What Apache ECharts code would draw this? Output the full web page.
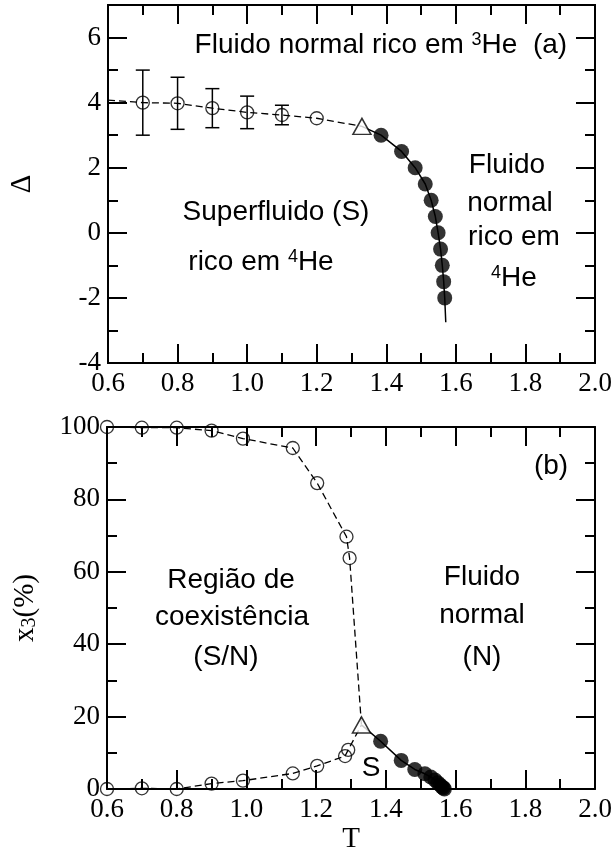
<!DOCTYPE html>
<html>
<head>
<meta charset="utf-8">
<script src="https://cdn.jsdelivr.net/npm/echarts@6/dist/echarts.min.js"></script>
<style>
html, body { margin: 0; padding: 0; background: #fff; }
#chart { width: 616px; height: 855px; }
</style>
</head>
<body>
<div id="chart"></div>
<script>
// painel (a): Delta x T
var startT = 0.6, startDelta = 4.08;
var openT = [0.7, 0.8, 0.9, 1.0, 1.1, 1.2];
var openDelta = [4.0, 3.98, 3.83, 3.7, 3.62, 3.52];
var errT = [0.7, 0.8, 0.9, 1.0, 1.1];
var errDelta = [4.0, 3.98, 3.83, 3.7, 3.62];
var errSize = [1.0, 0.8, 0.6, 0.5, 0.3];
var triT = 1.33, triDelta = 3.27, triX3 = 17.7;
var filledT = [1.385, 1.444, 1.483, 1.512, 1.529, 1.541, 1.549, 1.556, 1.561, 1.565, 1.568];
var filledDelta = [3.0, 2.5, 2.0, 1.5, 1.0, 0.5, 0.0, -0.5, -1.0, -1.5, -2.0];
var tailT = 1.571, tailDelta = -2.75;

// painel (b): x3 x T
var upperT = [0.6, 0.7, 0.8, 0.9, 0.99, 1.133, 1.203, 1.287, 1.296];
var upperX3 = [100, 99.8, 99.8, 99, 96.8, 94.2, 84.5, 69.7, 63.8];
var lowerT = [0.6, 0.7, 0.8, 0.9, 0.99, 1.133, 1.203, 1.283, 1.292];
var lowerX3 = [0, 0.2, 0, 1.5, 2.3, 4.3, 6.4, 9.1, 10.8];
var filledX3 = [13.2, 7.9, 5.4, 4.2, 3.3, 2.5, 1.7, 1.1, 0.6, 0.3, 0.0];

var xTicks = [0.6, 2.0, 0.2];

function pairs(a, b) {
    return a.map(function (v, i) { return [v, b[i]]; });
}

var serif = 'Liberation Serif';
var sans = 'Liberation Sans';

function xAx(grid, pos, labels, name) {
    return {
        type: 'value', gridIndex: grid, position: pos,
        min: xTicks[0], max: xTicks[1], interval: xTicks[2],
        name: name || '', nameLocation: 'middle', nameGap: 36,
        nameTextStyle: { color: '#000', fontFamily: serif, fontSize: 29 },
        axisLine: { show: true, onZero: false, lineStyle: { color: '#000', width: 2 } },
        axisTick: { show: true, inside: true, length: 19, lineStyle: { color: '#000', width: 2 } },
        minorTick: { show: true, splitNumber: 2, length: 10, lineStyle: { color: '#000', width: 2 } },
        splitLine: { show: false },
        axisLabel: {
            show: labels, margin: 7, color: '#000', fontFamily: serif, fontSize: 27,
            formatter: function (v) { return v.toFixed(1); }
        }
    };
}

function yAx(grid, pos, min, max, step, tickLen, labels, name, gap, minor) {
    return {
        type: 'value', gridIndex: grid, position: pos,
        min: min, max: max, interval: step,
        name: name || '', nameLocation: 'middle', nameGap: gap || 0, nameRotate: 90,
        nameTextStyle: {
            color: '#000', fontFamily: serif, fontSize: 29,
            rich: { s: { fontFamily: serif, fontSize: 20, verticalAlign: 'bottom', lineHeight: 16 } }
        },
        axisLine: { show: true, onZero: false, lineStyle: { color: '#000', width: 2 } },
        axisTick: { show: true, inside: true, length: tickLen, lineStyle: { color: '#000', width: 2 } },
        minorTick: { show: !!minor, splitNumber: 2, length: 10, lineStyle: { color: '#000', width: 2 } },
        splitLine: { show: false },
        axisLabel: {
            show: labels, margin: 7, color: '#000', fontFamily: serif, fontSize: 27,
            formatter: function (v) { return v === max && max === 7 ? '' : String(v); }
        }
    };
}

var open = { color: 'rgba(0,0,0,0)', borderColor: '#000', borderWidth: 1.3 };
var dashed = { color: '#000', width: 1.3, type: [7, 4] };
var solid = { color: '#000', width: 1.5 };

function lineS(xi, yi, data, style) {
    return { type: 'line', xAxisIndex: xi, yAxisIndex: yi, data: data, symbol: 'none',
        lineStyle: style, clip: false, z: 2 };
}
function dots(xi, yi, data, size, style, symbol) {
    return { type: 'scatter', xAxisIndex: xi, yAxisIndex: yi, data: data, symbol: symbol || 'circle',
        symbolSize: size, itemStyle: style, clip: false, z: 4 };
}

var sup = { fontFamily: sans, fontSize: 18, verticalAlign: 'top', lineHeight: 3 };
function label(text, x, y, align) {
    return {
        type: 'text', x: x, y: y, z: 10,
        style: {
            text: text, fill: '#000', fontFamily: sans, fontSize: 28,
            align: align || 'center', textAlign: align || 'center',
            verticalAlign: 'middle', textVerticalAlign: 'middle',
            rich: { sup: sup }
        }
    };
}

var chart = echarts.init(document.getElementById('chart'));
var option = {
    animation: false,
    backgroundColor: '#fff',
    grid: [
        { left: 107, top: 5, width: 488, height: 358 },
        { left: 107, top: 427, width: 488, height: 365 }
    ],
    xAxis: [
        xAx(0, 'bottom', true),
        xAx(0, 'top', false),
        xAx(1, 'bottom', true, 'T'),
        xAx(1, 'top', false)
    ],
    yAxis: [
        yAx(0, 'left', -4, 7, 2, 19, true, 'Δ', 71),
        yAx(0, 'left', -4, 7, 1, 10, false),
        yAx(0, 'right', -4, 7, 2, 19, false),
        yAx(0, 'right', -4, 7, 1, 10, false),
        yAx(1, 'left', 0, 100, 20, 19, true, 'x{s|3}(%)', 67, true),
        yAx(1, 'right', 0, 100, 20, 19, false, '', 0, true)
    ],
    series: [
        // (a)
        lineS(0, 0, [[startT, startDelta]].concat(pairs(openT, openDelta), [[triT, triDelta]]), dashed),
        lineS(0, 0, [[triT, triDelta]].concat(pairs(filledT, filledDelta), [[tailT, tailDelta]]), solid),
        {
            type: 'custom', xAxisIndex: 0, yAxisIndex: 0, z: 3,
            data: errT.map(function (t, i) { return [t, errDelta[i], errSize[i]]; }),
            encode: { x: 0, y: 1 },
            renderItem: function (params, api) {
                var t = api.value(0), v = api.value(1), d = api.value(2);
                var hi = api.coord([t, v + d]);
                var lo = api.coord([t, v - d]);
                var c = 7, st = { stroke: '#000', lineWidth: 1.5 };
                return {
                    type: 'group', children: [
                        { type: 'line', shape: { x1: hi[0], y1: hi[1], x2: lo[0], y2: lo[1] }, style: st },
                        { type: 'line', shape: { x1: hi[0] - c, y1: hi[1], x2: hi[0] + c, y2: hi[1] }, style: st },
                        { type: 'line', shape: { x1: lo[0] - c, y1: lo[1], x2: lo[0] + c, y2: lo[1] }, style: st }
                    ]
                };
            }
        },
        dots(0, 0, pairs(openT, openDelta), 13, open),
        dots(0, 0, pairs(filledT, filledDelta), 15, { color: '#000' }),
        dots(0, 0, [[triT, triDelta]], [18, 16], { color: '#fff', borderColor: '#000', borderWidth: 1.5 }, 'triangle'),
        // (b)
        lineS(2, 4, pairs(upperT, upperX3).concat([[triT, triX3]]), dashed),
        lineS(2, 4, pairs(lowerT, lowerX3).concat([[triT, triX3]]), dashed),
        lineS(2, 4, [[triT, triX3]].concat(pairs(filledT, filledX3)), solid),
        dots(2, 4, pairs(upperT, upperX3).concat(pairs(lowerT, lowerX3)), 13, open),
        dots(2, 4, pairs(filledT, filledX3), 15, { color: '#000' }),
        dots(2, 4, [[triT, triX3]], [18, 16], { color: '#fff', borderColor: '#000', borderWidth: 1.5 }, 'triangle')
    ],
    graphic: [
        label('Fluido normal rico em {sup|3}He  (a)', 194.6, 45, 'left'),
        label('Superfluido (S)', 276, 212),
        label('rico em {sup|4}He', 261, 262),
        label('Fluido', 507, 165),
        label('normal', 510, 203),
        label('rico em', 514, 237),
        label('{sup|4}He', 514, 278),
        label('(b)', 551, 466),
        label('Região de', 231, 580),
        label('coexistência', 232, 617),
        label('(S/N)', 226, 657),
        label('Fluido', 482, 577),
        label('normal', 482, 615),
        label('(N)', 482, 657),
        label('S', 371, 768)
    ]
};
chart.setOption(option);
window.addEventListener('resize', function () {
    chart.resize();
});
</script>
</body>
</html>
